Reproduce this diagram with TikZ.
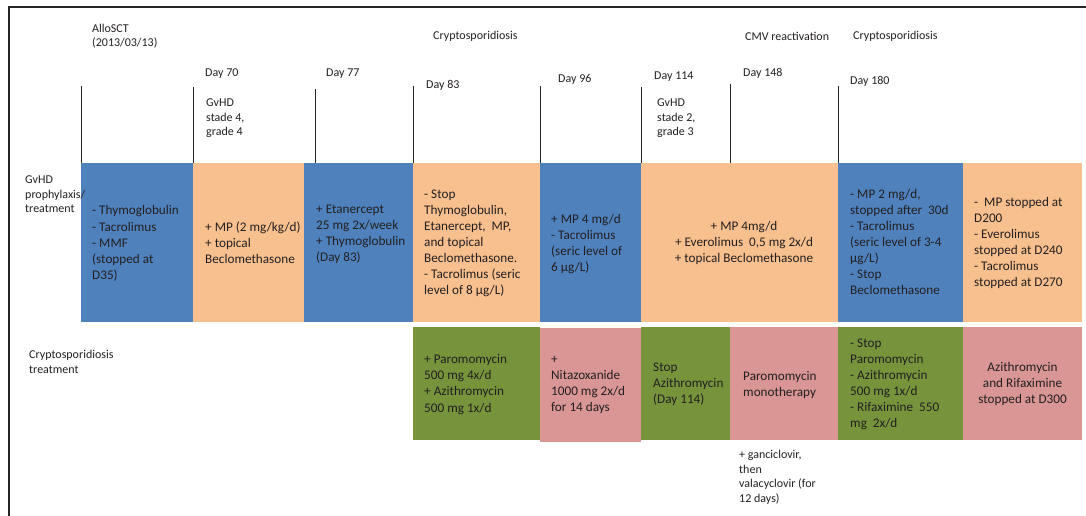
\documentclass[tikz,border=0pt]{standalone}
\usepackage{fontspec}
\setmainfont{Carlito}
\definecolor{cblue}{HTML}{4F81BD}
\definecolor{corange}{HTML}{F9C08F}
\definecolor{cgreen}{HTML}{77933C}
\definecolor{cpink}{HTML}{D99694}
\definecolor{ctext}{HTML}{231F20}
\begin{document}
\begin{tikzpicture}[x=1pt,y=-1pt,
  blk/.style={rectangle, draw=none, inner sep=0pt, outer sep=0pt},
  toprow/.style={blk, minimum height=159pt},
  botrow/.style={blk, minimum height=113pt},
  lbl/.style={inner sep=0pt, anchor=west, align=left, text=ctext, font=\fontsize{12}{14.5}\selectfont},
  btxt/.style={inner sep=0pt, anchor=west, align=left, text=ctext, font=\fontsize{13.2}{16.1}\selectfont},
  ctxt/.style={btxt, anchor=center, align=center},
  tick/.style={draw=black!85, line width=0.9pt},
  frame/.style={draw=black!85, line width=1.2pt}]
\useasboundingbox (0,0) rectangle (1086,516);
% frame
\coordinate (fa) at (1086,7);
\coordinate (fb) at (9,7);
\coordinate (fc) at (9,516);
\draw[frame] (fa) -- (fb) -- (fc);
% top row boxes
\node[toprow, fill=cblue,   minimum width=112pt] (b1) at (137,242.5) {};
\node[toprow, fill=corange, minimum width=111pt] (b2) at (248.5,242.5) {};
\node[toprow, fill=cblue,   minimum width=109pt] (b3) at (358.5,242.5) {};
\node[toprow, fill=corange, minimum width=127pt] (b4) at (476.5,242.5) {};
\node[toprow, fill=cblue,   minimum width=101pt] (b5) at (590.5,242.5) {};
\node[toprow, fill=corange, minimum width=197pt] (b6) at (739.5,242) {};
\node[toprow, fill=cblue,   minimum width=125pt] (b7) at (900.5,242) {};
\node[toprow, fill=corange, minimum width=119pt] (b8) at (1022.5,242.5) {};
% bottom row boxes
\node[botrow, fill=cgreen, minimum width=127pt] (g1) at (476.5,383.5) {};
\node[botrow, fill=cpink,  minimum width=101pt, minimum height=114pt] (p1) at (590.5,385) {};
\node[botrow, fill=cgreen, minimum width=89pt]  (g2) at (685.5,383.5) {};
\node[botrow, fill=cpink,  minimum width=108pt] (p2) at (784,383.5) {};
\node[botrow, fill=cgreen, minimum width=125pt] (g3) at (900.5,383.5) {};
\node[botrow, fill=cpink,  minimum width=119pt] (p3) at (1022.5,383.5) {};
% ticks
\foreach \n/\x/\t in {1/81/86, 2/193/87, 3/315/89, 4/413/86, 5/540/86, 6/641/87, 7/730/84, 8/838/86}{
  \coordinate (ta\n) at (\x,\t);
  \coordinate (tb\n) at (\x,163);
  \draw[tick] (ta\n) -- (tb\n);
}
% header labels
\node[lbl] (allo) at (92,36) {AlloSCT\\(2013/03/13)};
\node[lbl] (d70) at (205,74) {Day 70};
\node[lbl] (d77) at (326,74) {Day 77};
\node[lbl] (d83) at (426,85) {Day 83};
\node[lbl] (d96) at (558,79) {Day 96};
\node[lbl] (d114) at (654,77) {Day 114};
\node[lbl] (d148) at (743,73) {Day 148};
\node[lbl] (d180) at (850,81) {Day 180};
\node[lbl] (cr1) at (433,36) {Cryptosporidiosis};
\node[lbl] (cmv) at (745,36) {CMV reactivation};
\node[lbl] (cr2) at (853,36) {Cryptosporidiosis};
\node[lbl] (gv4) at (206,118.5) {GvHD\\stade 4,\\grade 4};
\node[lbl] (gv2) at (657,118.5) {GvHD\\stade 2,\\grade 3};
\node[lbl] (rowa) at (25,194.5) {GvHD\\prophylaxis/\\treatment};
\node[lbl] (rowb) at (29,362) {Cryptosporidiosis\\treatment};
\node[lbl] (gan) at (739,477.5) {+ ganciclovir,\\then\\valacyclovir (for\\12 days)};
% top row texts
\node[btxt] (tb1t) at (92,243.5) {- Thymoglobulin\\- Tacrolimus\\- MMF\\(stopped at\\D35)};
\node[btxt] (tb2t) at (205,243) {+ MP (2 mg/kg/d)\\+ topical\\Beclomethasone};
\node[btxt] (tb3t) at (316,234) {+ Etanercept\\25 mg 2x/week\\+ Thymoglobulin\\(Day 83)};
\node[btxt] (tb4t) at (424,243.5) {- Stop\\Thymoglobulin,\\Etanercept,~ MP,\\and topical\\Beclomethasone.\\- Tacrolimus (seric\\level of 8 µg/L)};
\node[btxt] (tb5t) at (551,244) {+ MP 4 mg/d\\- Tacrolimus\\(seric level of\\6 µg/L)};
\node[ctxt] (tb6t) at (744,243) {+ MP 4mg/d\\+ Everolimus~ 0,5 mg 2x/d\\+ topical Beclomethasone};
\node[btxt] (tb7t) at (850,242) {- MP 2 mg/d,\\stopped after~ 30d\\- Tacrolimus\\(seric level of 3-4\\µg/L)\\- Stop\\Beclomethasone};
\node[btxt] (tb8t) at (974,243) {-~ MP stopped at\\D200\\- Everolimus\\stopped at D240\\- Tacrolimus\\stopped at D270};
% bottom row texts
\node[btxt] (tg1t) at (424,384.5) {+ Paromomycin\\500 mg 4x/d\\+ Azithromycin\\500 mg 1x/d};
\node[btxt] (tp1t) at (551,385) {+\\Nitazoxanide\\1000 mg 2x/d\\for 14 days};
\node[btxt] (tg2t) at (653,384) {Stop\\Azithromycin\\(Day 114)};
\node[btxt] (tp2t) at (743,385) {Paromomycin\\monotherapy};
\node[btxt] (tg3t) at (850,384.5) {- Stop\\Paromomycin\\- Azithromycin\\500 mg 1x/d\\- Rifaximine~ 550\\mg~ 2x/d};
\node[ctxt] (tp3t) at (1022.5,384) {Azithromycin\\and Rifaximine\\stopped at D300};
\end{tikzpicture}
\end{document}
